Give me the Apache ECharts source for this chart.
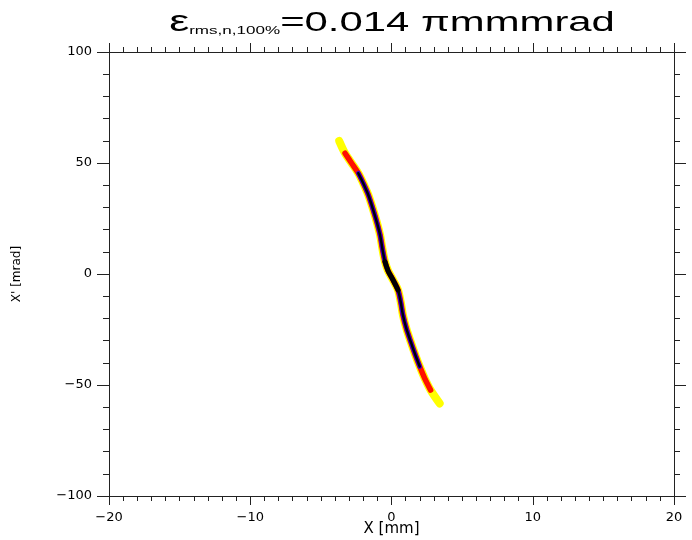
<!DOCTYPE html>
<html>
<head>
<meta charset="utf-8">
<script src="https://cdn.jsdelivr.net/npm/echarts@6/dist/echarts.min.js"></script>
<style>html,body{margin:0;padding:0;background:#fff}#c{width:692px;height:540px}</style>
</head>
<body>
<div id="c"></div>
<script>
// Centre line of the particle distribution (x in mm, x' in mrad)
const curveX = [-3.70, -3.29, -2.82, -2.35, -2.00, -1.64, -1.33, -1.05, -0.81, -0.65, -0.46, -0.24, 0.11, 0.46, 0.65, 0.81, 1.05, 1.36, 1.69, 2.00, 2.35, 2.77, 3.41];
const curveY = [59.9, 54.4, 49.9, 45.4, 40.9, 35.6, 29.6, 23.6, 17.6, 11.6, 5.5, 1.4, -2.7, -7.2, -12.5, -18.5, -24.5, -30.5, -36.5, -41.7, -47.0, -52.3, -58.3];
// density layers: [first index, last index] of the centre line that reach each level
const layerNames = ['low', 'mid', 'high', 'core', 'peak'];
const layerRanges = [[0, 22], [1, 21], [3, 19], [3, 19], [10, 13]];
const xTicks = [-20, -10, 0, 10, 20];
const yTicks = [-100, -50, 0, 50, 100];
const titleMain = '=0.014 \u03c0mmmrad';
const titleSub = 'rms,n,100%';

const pts = curveX.map((x, i) => [x, curveY[i]]);
const layerStyle = {
  low:  {color: '#ffff00', width: 8},
  mid:  {color: '#ff1000', width: 5.5},
  high: {color: '#3a00d0', width: 4.5},
  core: {color: '#000000', width: 2.5},
  peak: {color: '#000000', width: 5}
};
const series = layerNames.map((n, k) => ({
  type: 'line', name: n, xAxisIndex: 0, yAxisIndex: 0,
  data: pts.slice(layerRanges[k][0], layerRanges[k][1] + 1),
  smooth: 0.3, symbol: 'none', silent: true,
  lineStyle: {color: layerStyle[n].color, width: layerStyle[n].width, cap: 'round', join: 'round'}
}));

const fmt = v => String(v).replace('-', '\u2212');
const axisCol = '#222';
const lblStyle = {color: '#000', fontFamily: 'DejaVu Sans', fontSize: 13};
function xAx(pos, show) {
  return {
    type: 'value', position: pos, min: xTicks[0], max: xTicks[xTicks.length - 1], interval: 10,
    axisLine: {show: true, onZero: false, lineStyle: {color: axisCol, width: 1}},
    axisTick: {show: true, length: 9, lineStyle: {color: axisCol}},
    minorTick: {show: true, splitNumber: 10, length: 5, lineStyle: {color: axisCol}},
    splitLine: {show: false},
    axisLabel: Object.assign({show: show, margin: 15, formatter: fmt}, lblStyle),
    name: show ? 'X [mm]' : '', nameLocation: 'middle', nameGap: 26, nameMoveOverlap: false,
    nameTextStyle: {color: '#000', fontFamily: 'DejaVu Sans', fontSize: 15}
  };
}
function yAx(pos, show) {
  return {
    type: 'value', position: pos, min: yTicks[0], max: yTicks[yTicks.length - 1], interval: 50,
    axisLine: {show: true, onZero: false, lineStyle: {color: axisCol, width: 1}},
    axisTick: {show: true, length: 12, lineStyle: {color: axisCol}},
    minorTick: {show: true, splitNumber: 5, length: 6, lineStyle: {color: axisCol}},
    splitLine: {show: false},
    axisLabel: Object.assign({show: show, margin: 17, formatter: fmt}, lblStyle),
    name: show ? "X' [mrad]" : '', nameLocation: 'middle', nameGap: 86, nameMoveOverlap: false,
    nameTextStyle: {color: '#000', fontFamily: 'DejaVu Sans', fontSize: 12}
  };
}

const chart = echarts.init(document.getElementById('c'), null, {renderer: 'canvas'});
chart.setOption({
  backgroundColor: '#fff',
  animation: false,
  graphic: [{
    type: 'text', x: 392, y: 8, scaleX: 1.55, scaleY: 1, silent: true,
    style: {
      text: '{e|\u03b5}{s|' + titleSub + '}{m|' + titleMain + '}',
      align: 'center', verticalAlign: 'top',
      rich: {
        e: {fontFamily: 'Liberation Sans', fontSize: 29, fill: '#000', verticalAlign: 'bottom'},
        s: {fontFamily: 'Liberation Sans', fontSize: 11, fill: '#000', verticalAlign: 'bottom', padding: [0, 0, 1, 0]},
        m: {fontFamily: 'Liberation Sans', fontSize: 27, fill: '#000', verticalAlign: 'bottom'}
      }
    }
  }],
  grid: {left: 109, right: 18, top: 52, bottom: 44, containLabel: false, outerBoundsMode: 'none'},
  xAxis: [xAx('bottom', true), xAx('top', false)],
  yAxis: [yAx('left', true), yAx('right', false)],
  series: series
});
</script>
</body>
</html>
